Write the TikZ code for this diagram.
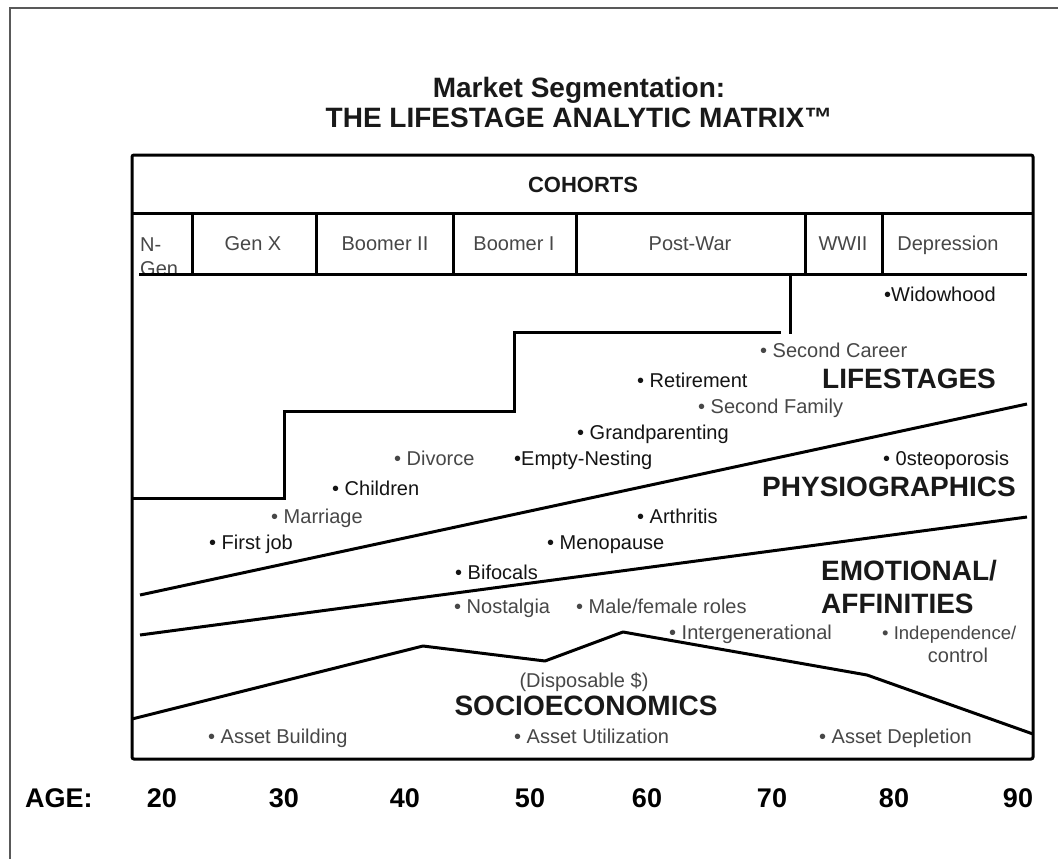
\documentclass[tikz,border=0pt]{standalone}
\usepackage{fontspec}
\setmainfont{Liberation Sans}
\begin{document}
\begin{tikzpicture}[x=1pt,y=-1pt,
  heavy/.style={line width=3pt,black},
  frame/.style={line width=1.5pt,gray!70!black},
  lbl/.style={inner sep=0pt,anchor=base west,text=black!72,font=\fontsize{20}{22}\selectfont},
  dlbl/.style={inner sep=0pt,anchor=base west,text=black!92,font=\fontsize{20}{22}\selectfont},
  coh/.style={inner sep=0pt,anchor=base,text=black!72,font=\fontsize{20}{22}\selectfont},
  big/.style={inner sep=0pt,anchor=base,text=black!90,font=\bfseries\fontsize{28}{30}\selectfont},
  age/.style={inner sep=0pt,anchor=base,text=black,font=\bfseries\fontsize{27}{30}\selectfont},
  ttl/.style={inner sep=0pt,anchor=base,text=black!90,font=\bfseries\fontsize{28}{30}\selectfont}]
\useasboundingbox (0,0) rectangle (1058,859);
\fill[white] (0,0) rectangle (1058,859);
% outer frame
\coordinate (f1) at (10,859);
\coordinate (f2) at (10,8);
\coordinate (f3) at (1058,8);
\draw[frame] (f1) -- (f2) -- (f3);
% title
\node[ttl] (t1) at (579,98) {Market Segmentation:};
\node[ttl] (t2) at (579,128) {THE LIFESTAGE ANALYTIC MATRIX™};
% cohort texts
\node[coh,anchor=base west] (ng1) at (140,251) {N-};
\node[coh,anchor=base west] (ng2) at (140,275) {Gen};
\node[coh] (gx) at (253,250) {Gen X};
\node[coh] (b2) at (385,250) {Boomer II};
\node[coh] (b1) at (514,250) {Boomer I};
\node[coh] (pw) at (690,250) {Post-War};
\node[coh] (ww) at (843,250) {WWII};
\node[coh] (dp) at (948,250) {Depression};
\node[big,font=\bfseries\fontsize{22}{26}\selectfont] (co) at (583,192) {COHORTS};
% main box
\coordinate (bx1) at (132,155);
\coordinate (bx2) at (1033,759);
\draw[heavy,rounded corners=2pt] (bx1) rectangle (bx2);
\coordinate (r1a) at (132,213); \coordinate (r1b) at (1033,213);
\draw[heavy] (r1a) -- (r1b);
\coordinate (r2a) at (139,274); \coordinate (r2b) at (1027,274);
\draw[heavy] (r2a) -- (r2b);
\foreach \x in {192,316,453,576,805,882}{
  \draw[heavy] (\x,213) -- (\x,274);
}
% lifestage stairs
\coordinate (s0) at (132,498);
\coordinate (s1) at (284,498);
\coordinate (s2) at (284,411);
\coordinate (s3) at (514,411);
\coordinate (s4) at (514,332);
\coordinate (s5) at (781,332);
\draw[heavy] (s0) -- (s1) -- (s2) -- (s3) -- (s4) -- (s5);
\coordinate (v1) at (790,274);
\coordinate (v2) at (790,334);
\draw[heavy] (v1) -- (v2);
% physiographics line
\coordinate (p1) at (140,595);
\coordinate (p2) at (1027,404);
\draw[heavy] (p1) -- (p2);
% emotional line
\coordinate (e1) at (140,635);
\coordinate (e2) at (1027,517);
\draw[heavy] (e1) -- (e2);
% socioeconomics line
\coordinate (c1) at (132,719);
\coordinate (c2) at (423,646);
\coordinate (c3) at (545,661);
\coordinate (c4) at (623,632);
\coordinate (c5) at (867,675);
\coordinate (c6) at (1033,734);
\draw[heavy,line join=round] (c1) -- (c2) -- (c3) -- (c4) -- (c5) -- (c6);
% labels
\node[dlbl] (wid) at (884,301) {•Widowhood};
\node[lbl] (sc) at (760,357) {• Second Career};
\node[dlbl] (ret) at (637,387) {• Retirement};
\node[big] (ls) at (909,388) {LIFESTAGES};
\node[lbl] (sf) at (698,413) {• Second Family};
\node[dlbl] (gp) at (577,439) {• Grandparenting};
\node[lbl] (dv) at (394,465) {• Divorce};
\node[dlbl] (en) at (514,465) {•Empty-Nesting};
\node[dlbl] (os) at (883,465) {• 0steoporosis};
\node[big] (ph) at (889,496) {PHYSIOGRAPHICS};
\node[dlbl] (ch) at (332,495) {• Children};
\node[lbl] (ma) at (271,523) {• Marriage};
\node[dlbl] (ar) at (637,523) {• Arthritis};
\node[dlbl] (fj) at (209,549) {• First job};
\node[dlbl] (me) at (547,549) {• Menopause};
\node[big,anchor=base west] (em) at (821,580) {EMOTIONAL/};
\node[dlbl] (bf) at (455,579) {• Bifocals};
\node[big,anchor=base west] (af) at (821,613) {AFFINITIES};
\node[lbl] (no) at (454,613) {• Nostalgia};
\node[lbl] (mf) at (576,613) {• Male/female roles};
\node[lbl] (ig) at (669,639) {• Intergenerational};
\node[lbl,font=\fontsize{18.5}{22}\selectfont] (id) at (882,639) {• Independence/};
\node[coh] (ct) at (958,662) {control};
\node[coh] (ds) at (584,687) {(Disposable \$)};
\node[big] (se) at (586,715) {SOCIOECONOMICS};
\node[lbl] (ab) at (208,743) {• Asset Building};
\node[lbl] (au) at (514,743) {• Asset Utilization};
\node[lbl] (ad) at (819,743) {• Asset Depletion};
% age axis
\node[age,anchor=base west] (agel) at (25,807) {AGE:};
\node[age] (a20) at (162,807) {20};
\node[age] (a30) at (284,807) {30};
\node[age] (a40) at (405,807) {40};
\node[age] (a50) at (530,807) {50};
\node[age] (a60) at (647,807) {60};
\node[age] (a70) at (772,807) {70};
\node[age] (a80) at (894,807) {80};
\node[age] (a90) at (1018,807) {90};
\end{tikzpicture}
\end{document}
